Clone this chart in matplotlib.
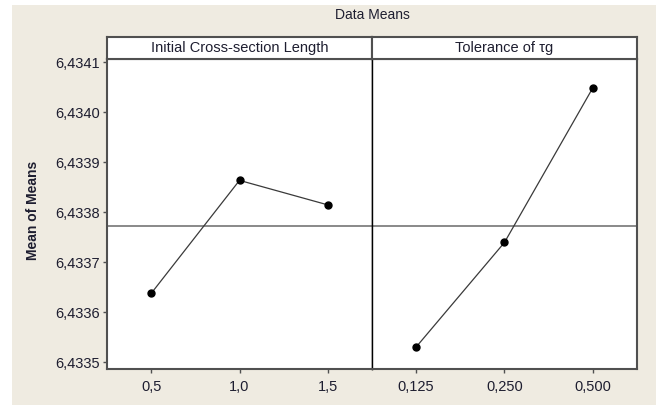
import matplotlib
matplotlib.use("Agg")
import matplotlib.pyplot as plt
from matplotlib.patches import Rectangle

plt.rcParams['font.family'] = ['Liberation Sans', 'DejaVu Sans']

title = "Data Means"
ylabel = "Mean of Means"
panel_titles = ["Initial Cross-section Length", "Tolerance of \u03c4g"]
levels_a = ["0,5", "1,0", "1,5"]
means_a = [6.433638, 6.433864, 6.433815]
levels_b = ["0,125", "0,250", "0,500"]
means_b = [6.433531, 6.433740, 6.434049]
grand_mean = 6.433773
yticks = [6.4335, 6.4336, 6.4337, 6.4338, 6.4339, 6.4340, 6.4341]

W, H = 656, 405
fig = plt.figure(figsize=(W / 100, H / 100), dpi=100)
fig.patch.set_facecolor('white')
bg = Rectangle((12 / W, 0), 1 - 12 / W, 1 - 5 / H, transform=fig.transFigure,
               facecolor='#efebe1', edgecolor='none', zorder=-10)
fig.patches.append(bg)

txtc = '#1e1e30'
spc = '#505050'
left1, right1, right2 = 107, 372, 637
top_ax, bot_ax = 59, 368.5
hdr_top = 37
fs = 10.5

def fx(px):
    return px / W

def fy(py):
    return 1 - py / H

ax_h = fy(bot_ax)
ax_ht = fy(top_ax) - fy(bot_ax)
ax1 = fig.add_axes([fx(left1), ax_h, fx(right1 - left1), ax_ht])
ax2 = fig.add_axes([fx(right1), ax_h, fx(right2 - right1), ax_ht], sharey=ax1)

ylim = (6.433488, 6.4341066)
for ax, levels, means in [(ax1, levels_a, means_a), (ax2, levels_b, means_b)]:
    xs = list(range(1, len(levels) + 1))
    ax.set_facecolor('white')
    ax.axhline(grand_mean, color='#808080', lw=1.3, zorder=1)
    ax.plot(xs, means, color='#3a3a3a', lw=0.9, marker='o', markersize=5,
            markerfacecolor='black', markeredgecolor='black', zorder=3)
    ax.set_xlim(0.5, 3.5)
    ax.set_ylim(*ylim)
    ax.set_xticks(xs)
    ax.set_xticklabels(levels)
    for s in ax.spines.values():
        s.set_color(spc)
        s.set_linewidth(1.5)
    ax.tick_params(axis='x', direction='out', length=3, width=1, color=spc,
                   labelsize=fs, labelcolor=txtc, pad=5)

ax1.set_yticks(yticks)
ax1.set_yticklabels([f"{v:.4f}".replace('.', ',') for v in yticks])
ax1.tick_params(axis='y', direction='out', length=3, width=1, color=spc,
                labelsize=fs, labelcolor=txtc, pad=2)
ax1.spines['right'].set_color('black')
ax1.spines['right'].set_linewidth(1.0)
ax2.spines['left'].set_color('black')
ax2.spines['left'].set_linewidth(1.0)
ax2.tick_params(axis='y', left=False, labelleft=False)

# strip headers
for (l, r), t in zip([(left1, right1), (right1, right2)], panel_titles):
    hax = fig.add_axes([fx(l), fy(top_ax), fx(r - l), fy(hdr_top) - fy(top_ax)])
    hax.set_facecolor('white')
    hax.set_xticks([])
    hax.set_yticks([])
    for s in hax.spines.values():
        s.set_color(spc)
        s.set_linewidth(1.5)
    hax.text(0.5, 0.5, t, ha='center', va='center', fontsize=fs, color=txtc,
             transform=hax.transAxes)

fig.text(fx((left1 + right2) / 2), fy(15), title, ha='center', va='center',
         fontsize=10, color=txtc)
fig.text(fx(33), fy(210), ylabel, ha='center', va='center', rotation=90,
         fontsize=10, fontweight='bold', color=txtc)

fig.savefig('out.png', dpi=100, facecolor=fig.get_facecolor())
